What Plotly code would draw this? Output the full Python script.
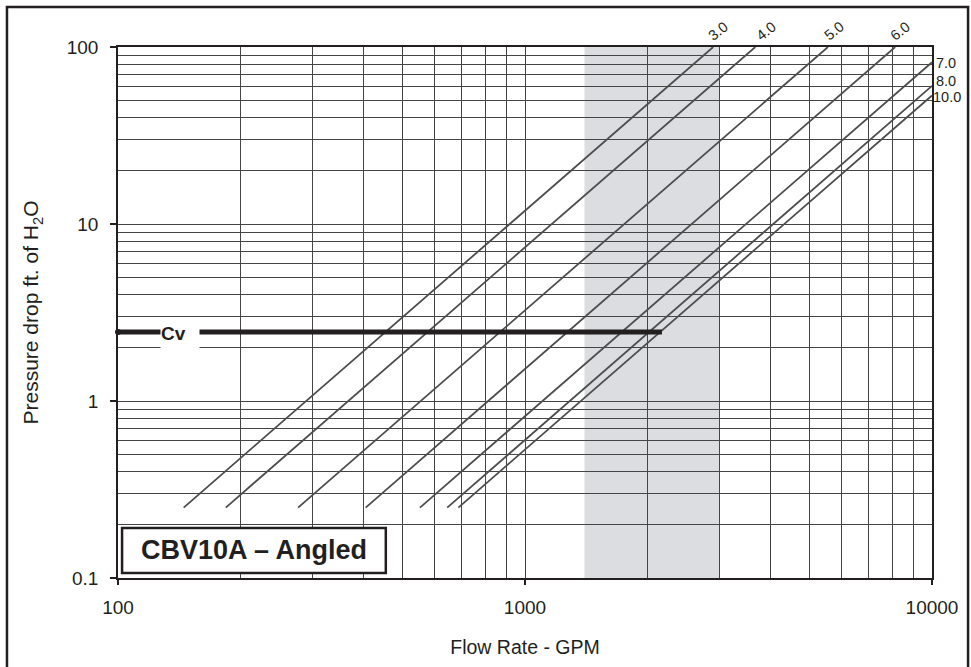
import math
import plotly.graph_objects as go

# ---- data ----
flow_start = [145, 184, 277, 406, 552, 644, 686]          # GPM where each curve starts
dp_start = [0.25, 0.25, 0.25, 0.25, 0.25, 0.25, 0.25]     # ft H2O
flow_end = [2900, 3680, 5550, 8120, 10000, 10000, 10000]  # GPM where each curve ends
dp_end = [100, 100, 100, 100, 82, 60.3, 53.2]             # ft H2O
curve_labels = ["3.0", "4.0", "5.0", "6.0", "7.0", "8.0", "10.0"]

cv_flow = [100, 2170]
cv_dp = [2.45, 2.45]

band_flow = [1400, 3000]

x_tickvals = [100, 1000, 10000]
x_ticktext = ["100", "1000", "10000"]
y_tickvals = [0.1, 1, 10, 100]
y_ticktext = ["0.1", "1", "10", "100"]

title_text = "CBV10A – Angled"

# ---- figure ----
FONT = "Liberation Sans, Arial, sans-serif"
INK = "#231f20"
GRID = "#454545"

fig = go.Figure()

for i in range(len(curve_labels)):
    fig.add_trace(go.Scatter(
        x=[flow_start[i], flow_end[i]], y=[dp_start[i], dp_end[i]],
        mode="lines", line=dict(color="#4d4d4d", width=1.8),
        hoverinfo="skip", showlegend=False, cliponaxis=False))

fig.add_trace(go.Scatter(
    x=cv_flow, y=cv_dp, mode="lines",
    line=dict(color=INK, width=5), showlegend=False, hoverinfo="skip"))
fig.add_trace(go.Scatter(
    x=[cv_flow[0]], y=[cv_dp[0]], mode="markers",
    marker=dict(color=INK, size=6), showlegend=False, hoverinfo="skip", cliponaxis=False))

minor_x = [m * 10 ** k for k in (2, 3) for m in range(2, 10)]
minor_y = [m * 10 ** k for k in (-1, 0, 1) for m in range(2, 10)]

fig.update_xaxes(
    type="log", range=[2, 4],
    tickmode="array", tickvals=x_tickvals, ticktext=x_ticktext,
    ticks="outside", ticklen=5, tickwidth=1.5, tickcolor=INK,
    showline=True, linecolor=INK, linewidth=1.5, mirror=True,
    showgrid=True, gridcolor=GRID, gridwidth=1, zeroline=False,
    minor=dict(tickmode="array", tickvals=minor_x, showgrid=True,
               gridcolor=GRID, gridwidth=1, ticks=""),
    tickfont=dict(family=FONT, size=19, color=INK),
    ticklabelstandoff=6,
    title=dict(text="Flow Rate - GPM", font=dict(family=FONT, size=19.5, color=INK), standoff=24),
)
fig.update_yaxes(
    type="log", range=[-1, 2],
    tickmode="array", tickvals=y_tickvals, ticktext=y_ticktext,
    ticks="outside", ticklen=6, tickwidth=1.5, tickcolor=INK,
    showline=True, linecolor=INK, linewidth=1.5, mirror=True,
    showgrid=True, gridcolor=GRID, gridwidth=1, zeroline=False,
    minor=dict(tickmode="array", tickvals=minor_y, showgrid=True,
               gridcolor=GRID, gridwidth=1, ticks=""),
    tickfont=dict(family=FONT, size=19, color=INK),
    ticklabelstandoff=8,
    title=dict(text="Pressure drop ft. of H<sub>2</sub>O", font=dict(family=FONT, size=21, color=INK), standoff=22),
)

shapes = [
    # shaded flow band
    dict(type="rect", xref="x", yref="paper", x0=band_flow[0], x1=band_flow[1], y0=0, y1=1,
         fillcolor="#dcdde0", line=dict(width=0), layer="below"),
    # label box
    dict(type="rect", xref="paper", yref="paper", x0=0.005, x1=0.329, y0=0.0094, y1=0.0942,
         fillcolor="white", line=dict(color=INK, width=2.5), layer="above"),
    # outer frame
    dict(type="rect", xref="paper", yref="paper", x0=-0.1364, x1=1.0443, y0=-0.2, y1=1.0753,
         fillcolor="rgba(0,0,0,0)", line=dict(color=INK, width=2.5), layer="above"),
]

annotations = [
    dict(xref="paper", yref="paper", x=0.1665, y=0.052, text="<b>" + title_text + "</b>",
         showarrow=False, font=dict(family=FONT, size=27, color=INK), xanchor="center", yanchor="middle"),
    dict(x=math.log10(cv_flow[0]), y=math.log10(cv_dp[0]), xref="x", yref="y",
         text="<b>Cv</b>", showarrow=False, xanchor="left", yanchor="middle", align="left",
         xshift=42, yshift=-1, width=38, height=30, bgcolor="white", borderpad=0,
         font=dict(family=FONT, size=19, color=INK)),
]

# curve labels
top_shift = [(5, 16), (11, 16), (6, 16), (5, 16)]
side_shift = [(3, -1), (3, 5), (0, -1)]
for i, lab in enumerate(curve_labels):
    if dp_end[i] >= 100:
        dx, dy = top_shift[i]
        annotations.append(dict(x=math.log10(flow_end[i]), y=math.log10(dp_end[i]), xref="x", yref="y",
                                text=lab, showarrow=False, textangle=-38, xshift=dx, yshift=dy,
                                font=dict(family=FONT, size=14.5, color=INK)))
    else:
        dx, dy = side_shift[i - 4]
        annotations.append(dict(x=math.log10(flow_end[i]), y=math.log10(dp_end[i]), xref="x", yref="y",
                                text=lab, showarrow=False, xanchor="left", yanchor="middle",
                                xshift=dx, yshift=dy, borderpad=0,
                                font=dict(family=FONT, size=14.5, color=INK)))

fig.update_layout(
    width=971, height=667,
    margin=dict(l=118, r=39, t=47, b=89),
    paper_bgcolor="white", plot_bgcolor="white",
    shapes=shapes, annotations=annotations,
    showlegend=False,
)

fig.write_html("out.html")
